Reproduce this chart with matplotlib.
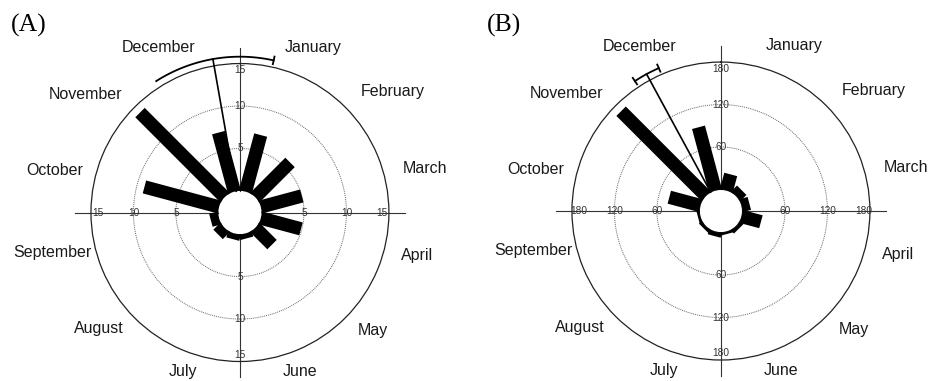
import numpy as np
import matplotlib.pyplot as plt

plt.rcParams['font.family'] = ['Liberation Sans', 'DejaVu Sans']

months = ['January', 'February', 'March', 'April', 'May', 'June',
          'July', 'August', 'September', 'October', 'November', 'December']

# monthly totals, panel A (number of cases) and panel B
values_a = [6.9, 5.8, 5.0, 4.9, 2.8, 0.6, 0.7, 1.1, 1.0, 9.1, 14.1, 7.2]
values_b = [23, 11, 11, 28, 5, 3, 6, 4, 3, 45, 169, 92]
ticks_a = [5, 10, 15]
ticks_b = [60, 120, 180]

# mean direction and 95% confidence interval (degrees, clockwise from January 1st)
mean_a = 350.0
ci_a = [327.5, 12.5]
mean_b = 331.5
ci_b = [326.5, 336.5]

HOLE = 0.145  # inner hole as a fraction of the outer radius
BAR_LW = 9.6
# distance of each month name from the centre, as a fraction of the outer ring
LABEL_R = [1.15, 1.145, 1.13, 1.12, 1.12, 1.105, 1.105, 1.105, 1.03, 1.09, 1.12, 1.145]


def rose(ax, values, ticks, mean_deg, ci_deg, ci_end_ticks, inner_lw):
    rmax = ticks[-1]
    h = HOLE * rmax / (1 - HOLE)

    def r_at(f):
        # radius as a fraction of the outer ring -> data radius
        return -h + f * (rmax + h)

    ax.set_theta_zero_location('N')
    ax.set_theta_direction(-1)
    ax.set_ylim(0, rmax)
    ax.set_rorigin(-h)
    ax.grid(False)
    ax.set_xticks([])
    ax.set_yticks([])
    ax.spines['polar'].set_linewidth(0.9)
    ax.spines['polar'].set_color('#222222')
    ax.spines['inner'].set_linewidth(inner_lw)
    ax.spines['inner'].set_color('#111111')

    # dotted rings
    th = np.linspace(0, 2 * np.pi, 361)
    for t in ticks[:-1]:
        ax.plot(th, np.full_like(th, t), ls=(0, (1, 1)), color='#666666', lw=0.7, zorder=1)

    # cross axes
    for ang in [0, 90, 180, 270]:
        a = np.deg2rad(ang)
        ax.plot([a, a], [0, r_at(1.105)], color='#333333', lw=0.8, clip_on=False, zorder=1)
        for t in ticks:
            r = t if t != rmax else r_at(0.956)
            ax.text(a, r, str(t), ha='center', va='center', fontsize=7.3,
                    color='#333333', zorder=4)

    # monthly bars
    theta = np.deg2rad(15 + 30 * np.arange(12))
    for t, v in zip(theta, values):
        ax.plot([t, t], [-h, v], color='black', lw=BAR_LW, solid_capstyle='butt', zorder=3)

    # mean vector with confidence interval
    m = np.deg2rad(mean_deg)
    r_ci = r_at(1.046)
    ax.plot([m, m], [0, r_ci], color='black', lw=1.2, clip_on=False, zorder=5)
    c0, c1 = ci_deg
    if c1 < c0:
        c1 += 360
    arc = np.deg2rad(np.linspace(c0, c1, 80))
    ax.plot(arc, np.full_like(arc, r_ci), color='black', lw=1.3, clip_on=False, zorder=5)
    for c, show in zip([c0, c1], ci_end_ticks):
        if show:
            ax.plot([np.deg2rad(c)] * 2, [r_at(1.02), r_at(1.072)], color='black',
                    lw=1.3, clip_on=False, zorder=5)

    # month names around the outside
    for i, name in enumerate(months):
        ang = 15 + 30 * i
        ax.text(np.deg2rad(ang), r_at(LABEL_R[i]), name, ha='left' if ang < 180 else 'right',
                va='center', fontsize=11.5, color='#1a1a1a')


fig = plt.figure(figsize=(9.3, 3.81), dpi=100)
ax_a = fig.add_axes([0.0978, 0.0512, 0.3204, 0.782], projection='polar')
ax_b = fig.add_axes([0.615, 0.0551, 0.3204, 0.782], projection='polar')

rose(ax_a, values_a, ticks_a, mean_a, ci_a, [False, True], 0)
rose(ax_b, values_b, ticks_b, mean_b, ci_b, [True, True], 0.8)

fig.text(0.012, 0.932, '(A)', family='Liberation Serif', fontsize=18.5, va='center')
fig.text(0.524, 0.932, '(B)', family='Liberation Serif', fontsize=18.5, va='center')

fig.savefig('out.png', dpi=100)
